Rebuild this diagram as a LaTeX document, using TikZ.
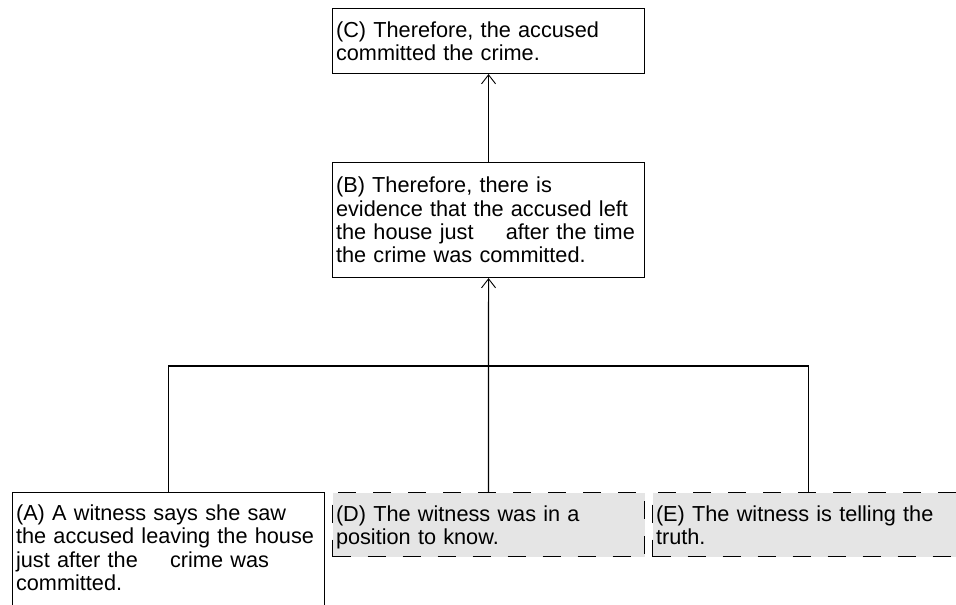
\documentclass[tikz,border=0pt]{standalone}
\usepackage{fontspec}
\setmainfont{Liberation Sans}
\usetikzlibrary{arrows.meta}
\begin{document}
\begin{tikzpicture}[x=1pt,y=-1pt,
  card/.style={draw=black, line width=1.1pt, anchor=north west,
    text width=305pt, inner xsep=3.5pt, inner ysep=3pt, align=left,
    font=\fontsize{21.7pt}{23.3pt}\selectfont},
  dashcard/.style={card, fill=black!10, line width=1pt,
    dash pattern=on 18pt off 17pt, minimum height=64pt,
    text height=16pt, text depth=23pt},
  link/.style={draw=black, line width=1.1pt},
  support/.style={link, -{Straight Barb[length=9pt,width=14pt,line width=0.9pt]}}]
  \useasboundingbox (0,0) rectangle (956,605);
  \fill[white] (0,0) rectangle (956,605);
  \clip (0,0) rectangle (956,605);

  % conclusion and intermediate claim
  \node[card, minimum height=65pt] (c) at (332,8)
    {(C) Therefore, the accused\\committed the crime.};
  \node[card, minimum height=115pt] (b) at (332,162)
    {(B) Therefore, there is\\evidence that the accused left\\the house just\hspace{25pt} after the time\\the crime was committed.};

  % premises; (A) runs past the lower edge
  \node[card, text height=16pt, text depth=120pt, inner ysep=12pt] (a) at (12,492)
    {(A) A witness says she saw\\the accused leaving the house\\just after the\hspace{25pt} crime was\\committed.};
  \node[dashcard] (d) at (332,492)
    {(D) The witness was in a\\position to know.};
  \node[dashcard] (e) at (652,492)
    {(E) The witness is telling the\\truth.};

  % linked premises joined by a bar
  \coordinate (bar) at (488,366);
  \draw[link] (a.north) |- (e.north |- bar) -- (e.north);
  \draw[support] (d.north) -- (b.south);
  \draw[support] (b.north) -- (c.south);
\end{tikzpicture}
\end{document}
